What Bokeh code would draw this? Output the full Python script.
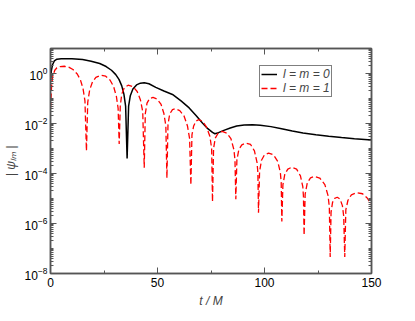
from bokeh.plotting import figure
from bokeh.models import (LinearAxis, LogAxis, FixedTicker, Legend, LegendItem,
                          Range1d)
from bokeh.embed import file_html
from bokeh.resources import INLINE

# l = m = 0 (black, solid)
t0 = [0, 0.4, 1.0, 1.8, 3.0, 5, 10, 15, 19, 23, 26, 28.5, 30.5, 32, 33.3, 34.3,
      35.1, 35.8, 36.5, 37.3, 38.5, 40.2, 42, 43.8, 46, 49.2, 53, 57, 61, 64.8,
      68, 71, 73.5, 75.7, 76.8, 78.5, 81, 84, 87, 90.5, 94.4, 98, 103, 108, 113,
      118, 124, 130, 136, 142, 150]
psi0 = [0.5, 1.3, 2.3, 3.2, 3.75, 3.9, 3.85, 3.6, 3.1, 2.5, 1.9, 1.35, 0.9, 0.58,
        0.32, 0.15, 0.05, 4e-4, 0.05, 0.13, 0.24, 0.35, 0.41, 0.43, 0.39, 0.28,
        0.2, 0.145, 0.08, 0.042, 0.021, 0.0105, 6.2e-3, 4.4e-3, 3.9e-3, 4.3e-3,
        5.3e-3, 6.6e-3, 7.9e-3, 8.8e-3, 9e-3, 8.6e-3, 7.5e-3, 6.2e-3, 5e-3,
        4.2e-3, 3.55e-3, 3.1e-3, 2.75e-3, 2.45e-3, 2.2e-3]

# l = m = 1 (red, dashed)
t1 = [0, 0.5, 1, 2, 3, 4.5, 6.5, 8.5, 10.5, 12.5, 14, 15.2, 16.1, 16.8,
      17.4, 18.3, 19.6, 21.2, 23.5, 25.8, 27.8, 29.5, 30.8, 31.6, 32.1,
      32.6, 33.3, 34.5, 36.3, 38.5, 40.5, 42.0, 43.1, 43.8,
      44.3, 45.1, 46.3, 47.9, 49.8, 51.6, 53.0, 53.9, 54.4,
      54.9, 55.7, 57.0, 58.4, 60.4, 62.4, 64.0, 65.0, 65.6,
      66.1, 66.9, 68.0, 69.3, 71.2, 73.0, 74.5, 75.3, 75.7,
      76.2, 77.0, 78.4, 80.2, 82.4, 84.3, 85.7, 86.2, 86.6,
      87.1, 88.0, 89.4, 91.3, 93.5, 95.3, 96.5, 96.9, 97.2,
      97.7, 98.6, 100.0, 101.9, 104.2, 106.2, 107.4, 107.8, 108.1,
      108.6, 109.5, 110.9, 112.7, 115.0, 116.8, 117.9, 118.2, 118.5,
      119.0, 120.0, 121.5, 123.3, 125.8, 128.2, 129.7, 130.3, 130.7,
      131.1, 131.8, 132.8, 134.0, 135.3, 136.4, 137.0, 137.5,
      138.0, 139.0, 140.6, 143.0, 145.8, 148.0, 150.0]
psi1 = [0.04, 0.3, 0.75, 1.35, 1.7, 1.9, 1.95, 1.8, 1.45, 0.95, 0.55, 0.25, 0.08, 8e-4,
        0.07, 0.22, 0.46, 0.7, 0.85, 0.78, 0.55, 0.3, 0.12, 0.04, 1.5e-3,
        0.05, 0.15, 0.27, 0.34, 0.3, 0.19, 0.09, 0.03, 1.7e-4,
        0.025, 0.065, 0.1, 0.11, 0.095, 0.06, 0.025, 0.008, 6.6e-5,
        0.009, 0.024, 0.036, 0.039, 0.033, 0.02, 0.008, 0.0025, 3.5e-5,
        0.0035, 0.008, 0.0125, 0.0142, 0.012, 0.007, 0.003, 0.001, 7.4e-6,
        1e-3, 2.6e-3, 4.2e-3, 4.8e-3, 4.1e-3, 2.5e-3, 9e-4, 3.5e-4, 9.3e-6,
        3.5e-4, 9e-4, 1.4e-3, 1.66e-3, 1.45e-3, 8e-4, 2.8e-4, 1.1e-4, 2.7e-6,
        1.2e-4, 3.4e-4, 5.6e-4, 6.5e-4, 5.6e-4, 3e-4, 1.1e-4, 4.5e-5, 1.2e-6,
        3.5e-5, 9.5e-5, 1.5e-4, 1.78e-4, 1.5e-4, 8e-5, 3e-5, 1.2e-5, 3.4e-7,
        1.5e-5, 4.2e-5, 6.7e-5, 7.6e-5, 6.6e-5, 3.6e-5, 1.3e-5, 4.5e-6, 4.6e-8,
        2.8e-6, 7e-6, 1.02e-5, 1.12e-5, 9.5e-6, 5.2e-6, 2e-6, 4.6e-8,
        3.5e-6, 8.5e-6, 1.4e-5, 1.7e-5, 1.55e-5, 1.05e-5, 5.5e-6]

x_ticks = [0, 50, 100, 150]
x_minor = [25, 75, 125]
y_ticks = [1e-8, 1e-6, 1e-4, 1e-2, 1e0]
y_minor = [k * 10.0 ** n for n in range(-8, 1) for k in range(1, 10)] + [10.0]

labels = ["l = m = 0", "l = m = 1"]

FONT = "Liberation Sans"
AX = "#555555"

p = figure(frame_width=321, frame_height=225, output_backend="svg",
           toolbar_location=None, y_axis_type="log",
           x_range=Range1d(0, 150), y_range=Range1d(1e-8, 10),
           min_border_left=40, min_border_top=48, min_border_right=36,
           min_border_bottom=32)
p.grid.visible = False
p.outline_line_color = AX
p.outline_line_width = 1.5

r0 = p.line(t0, psi0, line_color="black", line_width=1.5)
r1 = p.line(t1, psi1, line_color="red", line_width=1.3, line_dash="6 3")


def style(ax, show):
    ax.axis_line_color = AX
    ax.axis_line_width = 1.5
    ax.major_tick_line_color = AX
    ax.minor_tick_line_color = AX
    ax.major_tick_in = 6
    ax.major_tick_out = 0
    ax.minor_tick_in = 3
    ax.minor_tick_out = 0
    ax.major_label_text_font = FONT
    ax.major_label_text_font_size = "12px"
    ax.major_label_text_color = "black" if show else None
    ax.major_label_standoff = 3
    ax.axis_label_text_font = FONT
    ax.axis_label_text_font_size = "12px"
    ax.axis_label_text_font_style = "italic"
    ax.axis_label_standoff = 4


xa = p.xaxis[0]
xa.ticker = FixedTicker(ticks=x_ticks, minor_ticks=x_minor)
xa.axis_label = "t / M"
style(xa, True)
xa.major_label_standoff = 4

ya = p.yaxis[0]
ya.ticker = FixedTicker(ticks=y_ticks, minor_ticks=y_minor)
ya.axis_label = "| ψₗₘ |"
style(ya, True)

top = LinearAxis(ticker=FixedTicker(ticks=x_ticks, minor_ticks=x_minor))
style(top, False)
p.add_layout(top, "above")

right = LogAxis(ticker=FixedTicker(ticks=y_ticks, minor_ticks=y_minor))
style(right, False)
p.add_layout(right, "right")

legend = Legend(items=[LegendItem(label=labels[0], renderers=[r0]),
                       LegendItem(label=labels[1], renderers=[r1])],
                location=(209, 176))
legend.label_text_font = FONT
legend.label_text_font_size = "12px"
legend.label_text_font_style = "italic"
legend.label_text_line_height = 0.9
legend.border_line_color = "black"
legend.border_line_width = 1
legend.padding = 1
legend.spacing = -3
legend.margin = 0
legend.glyph_width = 16
legend.glyph_height = 8
legend.label_height = 8
legend.label_standoff = 6
p.add_layout(legend)

open("out.html", "w").write(file_html(p, INLINE))
